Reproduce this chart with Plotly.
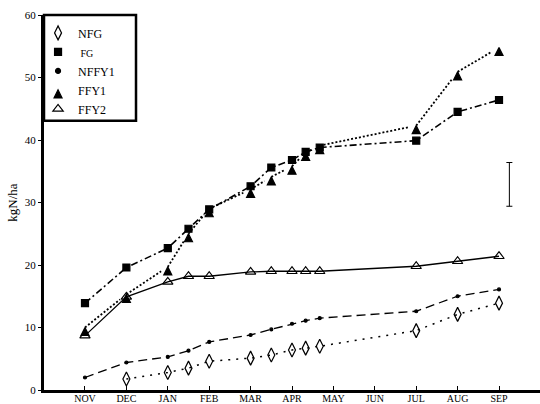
import plotly.graph_objects as go

months = ["NOV", "DEC", "JAN", "FEB", "MAR", "APR", "MAY", "JUN", "JUL", "AUG", "SEP"]
month_pos = list(range(len(months)))

# sampling dates expressed as month index (NOV = 0)
sample_x = [0, 1, 2, 2.5, 3, 4, 4.5, 5, 5.33, 5.67, 8, 9, 10]

nfg = [None, 1.75, 2.8, 3.5, 4.6, 5.1, 5.6, 6.4, 6.7, 7.0, 9.5, 12.1, 13.9]
fg = [13.9, 19.6, 22.7, 25.8, 28.9, 32.6, 35.6, 36.8, 38.1, 38.8, 39.9, 44.5, 46.4]
nffy1 = [2.0, 4.4, 5.3, 6.3, 7.7, 8.8, 9.7, 10.6, 11.1, 11.5, 12.6, 15.0, 16.1]
ffy1 = [10.0, 15.3, 19.7, 25.0, 29.0, 32.1, 34.1, 35.8, 38.0, 39.1, 42.3, 50.9, 54.8]
ffy2 = [8.7, 14.9, 17.3, 18.2, 18.2, 18.9, 19.0, 19.0, 19.0, 19.0, 19.8, 20.6, 21.4]

# LSD bar
lsd_x = [10.25]
lsd_center = [32.9]
lsd_half = [3.5]

series = [
    ("NFG", nfg, "diamond-tall-open", 10, "2px,6px", 1.5),
    ("<span style='font-size:10px'> FG</span>", fg, "square", 7, "7px,3px,2px,3px", 1.6),
    ("NFFY1", nffy1, "circle", 3, "9px,5px", 1.3),
    ("FFY1", ffy1, "arrow-up", 8, "2px,2px", 1.8),
    ("FFY2", ffy2, "triangle-up-open", 9, "solid", 1.3),
]

fig = go.Figure()
for name, ys, sym, size, dash, lw in series:
    fig.add_trace(go.Scatter(
        x=sample_x, y=ys, mode="lines+markers", showlegend=False,
        line=dict(color="black", width=lw, dash=dash),
        marker=dict(symbol=sym, size=size, color="black",
                    line=dict(color="black", width=1.2)),
        connectgaps=False,
    ))
for name, ys, sym, size, dash, lw in series:
    fig.add_trace(go.Scatter(
        x=[None], y=[None], mode="markers", name=name, showlegend=True,
        marker=dict(symbol=sym, size=max(size, 5), color="black",
                    line=dict(color="black", width=1.2)),
    ))

fig.add_trace(go.Scatter(
    x=lsd_x, y=lsd_center, mode="markers", showlegend=False,
    marker=dict(size=1, color="rgba(0,0,0,0)"),
    error_y=dict(type="data", array=lsd_half, visible=True, color="black",
                 thickness=1, width=3),
))

# legend frame (paper coordinates)
fig.add_shape(type="rect", xref="paper", yref="paper",
              x0=0, x1=0.1855, y0=0.718, y1=1.0,
              line=dict(color="black", width=2.5), fillcolor="rgba(0,0,0,0)")

fig.update_layout(
    width=540, height=404,
    margin=dict(l=44, r=0, t=15, b=14),
    plot_bgcolor="white", paper_bgcolor="white",
    font=dict(family="Liberation Serif", color="black", size=11),
    legend=dict(
        x=-0.012, y=0.991, xanchor="left", yanchor="top",
        borderwidth=0, bgcolor="rgba(0,0,0,0)",
        font=dict(family="Liberation Serif", size=12, color="black"),
        tracegroupgap=0, itemsizing="trace", itemwidth=30,
    ),
    xaxis=dict(
        range=[-0.99, 10.99], tickvals=month_pos, ticktext=months,
        showline=True, linewidth=3, linecolor="black",
        ticks="inside", ticklen=4, tickcolor="black",
        showgrid=False, zeroline=False, automargin=False,
        ticklabelstandoff=-3,
        tickfont=dict(family="Liberation Serif", size=10),
    ),
    yaxis=dict(
        range=[0, 60], tickvals=[0, 10, 20, 30, 40, 50, 60],
        showline=True, linewidth=3, linecolor="black",
        ticks="outside", ticklen=3, tickcolor="black",
        showgrid=False, zeroline=False, automargin=False,
        tickfont=dict(family="Liberation Serif", size=11),
        title=dict(text="kgN/ha", font=dict(family="Liberation Serif", size=13), standoff=5),
    ),
)

fig.write_html("out.html", config={"displayModeBar": False},
               post_script="document.body.style.margin='0';")
